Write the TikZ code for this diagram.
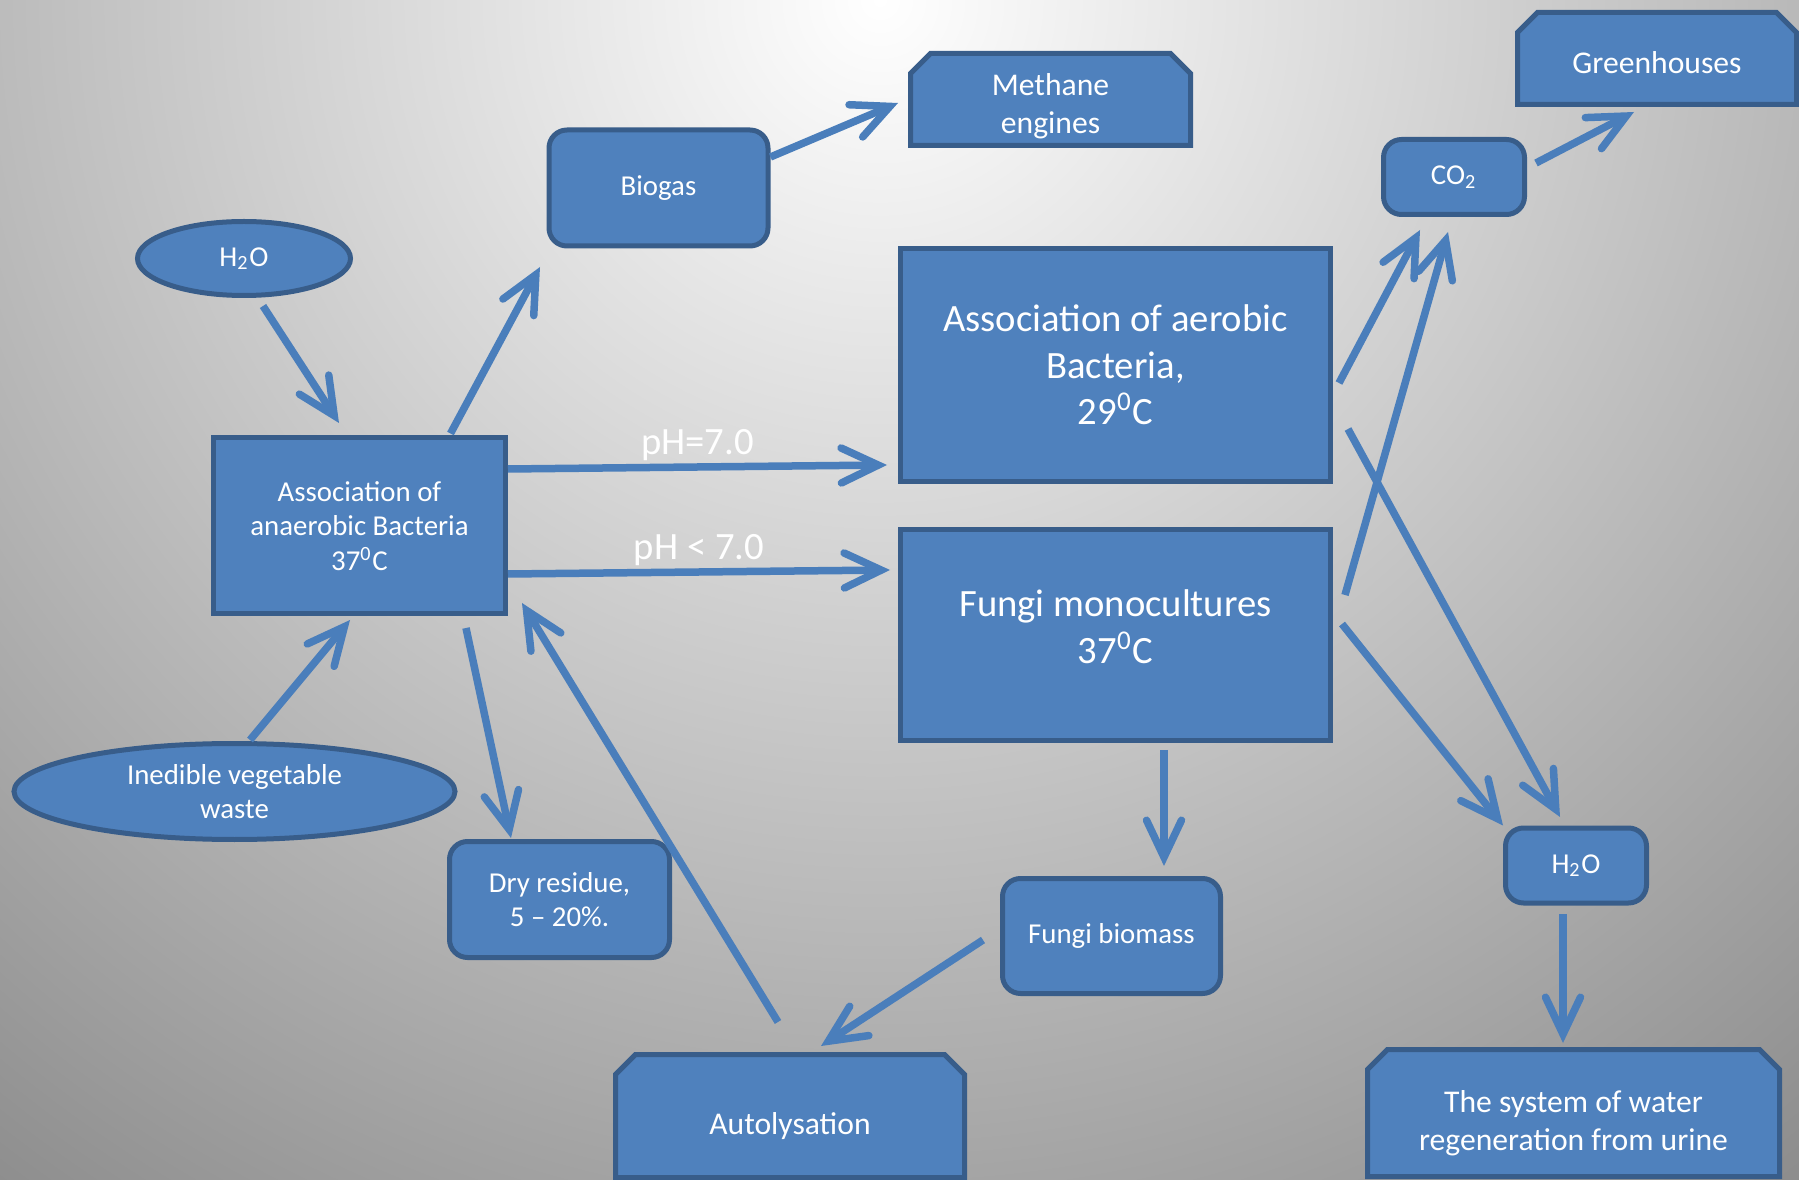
\documentclass[tikz,border=0pt]{standalone}
\usepackage{fontspec}
\setmainfont{Carlito}
\usetikzlibrary{shapes.geometric,shapes.misc,arrows.meta}

\newlength{\du}
\setlength{\du}{0.1mm}

\definecolor{boxfill}{RGB}{79,129,189}
\definecolor{boxline}{RGB}{56,93,138}
\definecolor{flowcolor}{RGB}{74,126,187}
\definecolor{bgdark}{RGB}{140,140,140}

\tikzset{
  base/.style={draw=boxline, fill=boxfill, line width=0.5mm, text=white, align=center, inner sep=0pt},
  plainbox/.style={base, rectangle},
  roundbox/.style={base, rectangle, rounded corners=1.8mm},
  snipbox/.style={base, chamfered rectangle, chamfered rectangle corners={north west,north east}, chamfered rectangle sep=1mm},
  oval/.style={base, ellipse},
  flow/.style={draw=flowcolor, line width=0.75mm, -{Straight Barb[length=3.7mm,width=3.5mm,line cap=round,line join=miter]}},
  smalltext/.style={font=\fontsize{8.2}{9.8}\selectfont},
  midtext/.style={font=\fontsize{9}{10.8}\selectfont},
  bigtext/.style={font=\fontsize{11}{13.2}\selectfont},
  phlabel/.style={text=white, anchor=south, inner sep=0.8pt, font=\fontsize{11}{13.2}\selectfont},
}

\begin{document}
\begin{tikzpicture}
\pgftransformxscale{1.000000}
\pgftransformyscale{-1.000000}
\useasboundingbox (0\du,0\du) rectangle (1799\du,1180\du);
% background
\begin{scope}
\clip (0\du,0\du) rectangle (1799\du,1180\du);
\shade[inner color=white, outer color=bgdark] (880\du,0\du) circle (1500\du);
\end{scope}
% boxes
\node[oval, smalltext, minimum width=213\du, minimum height=74\du] (h2oA) at (244\du,258.5\du) {H\textsubscript{2}O};
\node[oval, smalltext, minimum width=441\du, minimum height=96\du] (ined) at (234.5\du,791.5\du) {Inedible vegetable\\waste};
\node[plainbox, smalltext, minimum width=292\du, minimum height=176\du] (anaer) at (359.5\du,526\du) {Association of\\anaerobic Bacteria\\37\textsuperscript{0}C};
\node[roundbox, smalltext, minimum width=219\du, minimum height=116\du] (bio) at (658.5\du,188\du) {Biogas};
\node[snipbox, midtext, minimum width=280\du, minimum height=92\du, text height=7mm, text depth=0.2mm] (meth) at (1050.5\du,99.5\du) {Methane\\engines};
\node[plainbox, bigtext, minimum width=430\du, minimum height=233\du] (aero) at (1115.5\du,365\du) {Association of aerobic\\Bacteria,\\29\textsuperscript{0}C};
\node[plainbox, bigtext, minimum width=430\du, minimum height=211\du, text depth=1.7mm] (fungi) at (1115.5\du,635\du) {Fungi monocultures\\37\textsuperscript{0}C};
\node[roundbox, smalltext, minimum width=141\du, minimum height=75\du] (co2) at (1454\du,177\du) {CO\textsubscript{2}};
\node[snipbox, midtext, minimum width=279\du, minimum height=92\du, text height=3.1mm] (green) at (1657\du,58.5\du) {Greenhouses};
\node[roundbox, smalltext, minimum width=141\du, minimum height=75\du] (h2oB) at (1576\du,865.5\du) {H\textsubscript{2}O};
\node[snipbox, midtext, minimum width=412\du, minimum height=127\du, text height=8mm] (water) at (1573.5\du,1113\du) {The system of water\\regeneration from urine};
\node[roundbox, smalltext, minimum width=218\du, minimum height=115\du] (fbio) at (1111.5\du,936\du) {Fungi biomass};
\node[roundbox, smalltext, minimum width=220\du, minimum height=116\du] (dry) at (559.5\du,899.5\du) {Dry residue,\\5 -- 20\%.};
\node[snipbox, midtext, minimum width=349\du, minimum height=123\du, text height=4.2mm] (auto) at (790\du,1116\du) {Autolysation};
% connectors
\draw[flow] ([xshift=19\du,yshift=8\du]h2oA.south) -- ([xshift=-20.5\du,yshift=-12.5\du]anaer.north);
\draw[flow] ([xshift=91\du,yshift=-2\du]anaer.north) -- ([xshift=-6.5\du,yshift=18.5\du]bio.south west);
\draw[flow] ([yshift=-31\du]bio.east) -- ([xshift=-10\du,yshift=3.5\du]meth.west);
\draw[flow] ([yshift=33.5\du]anaer.north east) -- node[phlabel] {pH=7.0} ([xshift=-11\du,yshift=-19\du]aero.south west);
\draw[flow] ([yshift=48\du]anaer.east) -- node[phlabel] {pH < 7.0} ([xshift=-8\du,yshift=43\du]fungi.north west);
\draw[flow] ([xshift=9\du,yshift=-14\du]co2.east) -- ([xshift=-23\du,yshift=5\du]green.south);
\draw[flow] ([xshift=6\du,yshift=18\du]aero.east) -- ([xshift=-34\du,yshift=13\du]co2.south);
\draw[flow] ([xshift=12\du,yshift=-40\du]fungi.east) -- ([xshift=-6\du,yshift=15\du]co2.south);
\draw[flow] ([xshift=15\du,yshift=64\du]aero.east) -- ([xshift=-16\du,yshift=-8.5\du]h2oB.north);
\draw[flow] ([xshift=9\du,yshift=-11\du]fungi.east) -- (h2oB.north west);
\draw[flow] ([xshift=-13\du,yshift=8.5\du]h2oB.south) -- ([xshift=-10.5\du,yshift=-4\du]water.north);
\draw[flow] ([xshift=48.5\du,yshift=7\du]fungi.south) -- ([xshift=52.5\du,yshift=-10\du]fbio.north);
\draw[flow] ([xshift=-17\du,yshift=4\du]fbio.west) -- ([xshift=31\du,yshift=-6\du]auto.north);
\draw[flow] ([xshift=15.5\du,yshift=-1\du]ined.north) -- ([xshift=-9.5\du,yshift=3.5\du]anaer.south);
\draw[flow] ([xshift=106.5\du,yshift=11.5\du]anaer.south) -- ([xshift=-48.5\du,yshift=-1\du]dry.north);
\draw[flow] ([xshift=-12\du,yshift=-30\du]auto.north) -- ([xshift=14\du,yshift=-13.5\du]anaer.south east);
\end{tikzpicture}
\end{document}
